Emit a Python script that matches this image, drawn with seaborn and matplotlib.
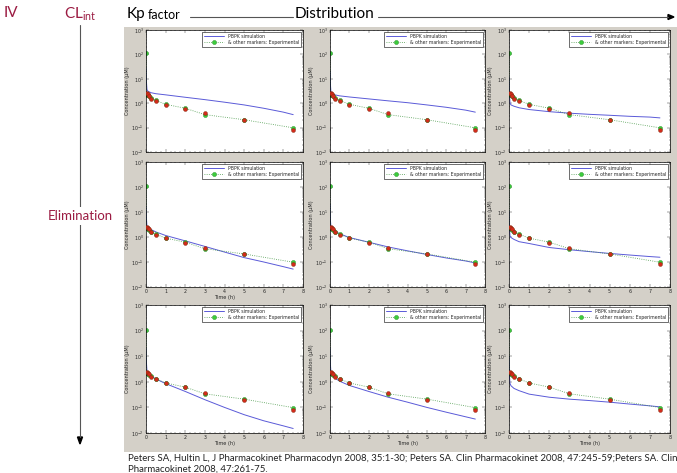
import numpy as np
import pandas as pd
import matplotlib.pyplot as plt
import seaborn as sns
from matplotlib.patches import Rectangle
from matplotlib.ticker import LogLocator, MultipleLocator, NullFormatter

# Experimental data (same in every panel)
exp_green_t = [0, 0.033, 0.083, 0.167, 0.25, 0.5, 1, 2, 3, 5, 7.5]
exp_green_c = [110, 2.2, 2.1, 1.9, 1.65, 1.3, 0.9, 0.62, 0.34, 0.21, 0.098]
exp_red_t = [0.033, 0.083, 0.167, 0.25, 0.5, 1, 2, 3, 5, 7.5]
exp_red_c = [2.5, 2.3, 2.0, 1.55, 1.25, 0.88, 0.6, 0.38, 0.2, 0.082]

# PBPK simulations, one per panel (rows: elimination, cols: Kp factor)
sim_t = [0, 0.02, 0.05, 0.1, 0.25, 0.5, 1, 2, 3, 4, 5, 6, 7, 7.5]
sim_r1c1 = [27, 8, 3.6, 3.1, 2.7, 2.45, 2.2, 1.75, 1.4, 1.1, 0.85, 0.62, 0.43, 0.34]
sim_r1c2 = [20, 6, 2.8, 2.4, 2.2, 2.0, 1.8, 1.5, 1.25, 1.05, 0.85, 0.68, 0.52, 0.43]
sim_r1c3 = [12, 2.5, 1.0, 0.85, 0.75, 0.65, 0.55, 0.45, 0.39, 0.35, 0.32, 0.29, 0.27, 0.25]
sim_r2c1 = [17, 6, 2.6, 2.3, 2.0, 1.6, 1.15, 0.7, 0.42, 0.25, 0.15, 0.1, 0.065, 0.052]
sim_r2c2 = [20, 5, 2.4, 2.1, 1.7, 1.35, 0.95, 0.62, 0.4, 0.28, 0.2, 0.145, 0.11, 0.092]
sim_r2c3 = [11, 2.2, 1.1, 0.95, 0.8, 0.65, 0.55, 0.38, 0.31, 0.26, 0.22, 0.19, 0.165, 0.155]
sim_r3c1 = [20, 6, 2.6, 2.2, 1.7, 1.3, 0.85, 0.42, 0.2, 0.1, 0.052, 0.03, 0.019, 0.015]
sim_r3c2 = [20, 5, 2.2, 1.8, 1.4, 1.05, 0.72, 0.42, 0.25, 0.16, 0.1, 0.065, 0.043, 0.035]
sim_r3c3 = [10, 1.8, 0.85, 0.7, 0.55, 0.45, 0.33, 0.25, 0.21, 0.185, 0.16, 0.135, 0.115, 0.105]

sims = [[sim_r1c1, sim_r1c2, sim_r1c3],
        [sim_r2c1, sim_r2c2, sim_r2c3],
        [sim_r3c1, sim_r3c2, sim_r3c3]]

citation = ("Peters SA, Hultin L, J Pharmacokinet Pharmacodyn 2008, 35:1-30; Peters SA. Clin "
            "Pharmacokinet 2008, 47:245-59;Peters SA. Clin\nPharmacokinet 2008, 47:261-75.")

sns.set_style("ticks")
plt.rcParams['font.family'] = ['DejaVu Sans']

W, H = 677, 473
fig = plt.figure(figsize=(W / 100, H / 100), dpi=100)
fig.patch.set_facecolor('white')

def fx(x):
    return x / W

def fy(y):
    return 1 - y / H

# gray MATLAB figure background
fig.patches.append(Rectangle((fx(124), fy(452)), fx(677 - 124), (452 - 27) / H,
                             transform=fig.transFigure, facecolor='#d4d0c8',
                             edgecolor='none', zorder=-10))

row_px = [(30, 152), (162, 287), (305, 433)]
col_px = [(146, 303), (330, 485), (509, 670)]

blue = '#5a5ad8'
green_line = '#4a9a4a'
green_mk = '#3ccc3c'

for r, (top, bot) in enumerate(row_px):
    for c, (left, right) in enumerate(col_px):
        ax = fig.add_axes([fx(left), fy(bot), fx(right - left), (bot - top) / H])
        ax.set_zorder(1)
        ax.set_facecolor('white')
        sns.lineplot(x=sim_t, y=sims[r][c], ax=ax, color=blue, lw=0.7,
                     label='PBPK simulation')
        sns.lineplot(x=exp_green_t, y=exp_green_c, ax=ax, color=green_line, lw=0.6,
                     linestyle=':', marker='o', markersize=3,
                     markerfacecolor=green_mk, markeredgecolor='#2a8a2a',
                     markeredgewidth=0.3, label='& other markers: Experimental')
        sns.scatterplot(x=exp_red_t, y=exp_red_c, ax=ax, color='#d42a1a', s=8,
                        edgecolor='#7a2a10', linewidth=0.3, legend=False, zorder=4)
        ax.set_yscale('log')
        ax.set_ylim(1e-2, 1e3)
        ax.set_xlim(0, 8)
        ax.yaxis.set_major_locator(LogLocator(base=10, numticks=10))
        ax.yaxis.set_minor_locator(LogLocator(base=10, subs=np.arange(2, 10), numticks=20))
        ax.yaxis.set_minor_formatter(NullFormatter())
        ax.xaxis.set_major_locator(MultipleLocator(1))
        ax.xaxis.set_minor_locator(MultipleLocator(0.25))
        ax.tick_params(which='both', direction='in', top=True, right=True,
                       labelsize=3.4, width=0.3, pad=1.5)
        ax.tick_params(which='major', length=2)
        ax.tick_params(which='minor', length=1)
        for s in ax.spines.values():
            s.set_linewidth(0.5)
            s.set_color('black')
        ax.set_ylabel('Concentration (μM)', fontsize=3.6, labelpad=1)
        if r == 0:
            ax.set_xticklabels([])
            ax.set_xlabel('')
        else:
            if r == 2 or c == 0:
                ax.set_xlabel('Time (h)', fontsize=3.6, labelpad=1)
            else:
                ax.set_xlabel('')
        leg = ax.legend(loc='upper right', fontsize=3.3, frameon=True, fancybox=False,
                        edgecolor='black', framealpha=1, borderpad=0.4,
                        handlelength=4.5, labelspacing=0.25, borderaxespad=0.4)
        leg.get_frame().set_linewidth(0.4)

red_txt = '#9b1b42'
fig.text(fx(4), fy(13), 'IV', color=red_txt, fontsize=11, va='center', ha='left',
         family='Lato')
fig.text(fx(64), fy(14), r'CL$_{\mathregular{int}}$', color=red_txt, fontsize=11,
         va='center', ha='left', family='Lato')
fig.text(fx(127), fy(14), 'Kp', color='black', fontsize=11, va='center', ha='left',
         family='Lato')
fig.text(fx(148), fy(15), 'factor', color='black', fontsize=9, va='center', ha='left',
         family='Lato')
fig.text(fx(334), fy(14), 'Distribution', color='black', fontsize=11, va='center',
         ha='center', family='Lato')

# horizontal distribution arrow
fig.add_artist(plt.Line2D([fx(190), fx(293)], [fy(17), fy(17)], color='#555555', lw=0.8))
fig.add_artist(plt.Line2D([fx(378), fx(668)], [fy(17), fy(17)], color='#555555', lw=0.8))
fig.add_artist(plt.Polygon([[fx(668), fy(14.5)], [fx(674), fy(17)], [fx(668), fy(19.5)]],
                           closed=True, color='black', transform=fig.transFigure))

# vertical elimination arrow
fig.add_artist(plt.Line2D([fx(80), fx(80)], [fy(25), fy(437)], color='#555555', lw=0.8))
fig.add_artist(plt.Polygon([[fx(77.5), fy(437)], [fx(80), fy(444)], [fx(82.5), fy(437)]],
                           closed=True, color='black', transform=fig.transFigure))
fig.text(fx(80), fy(216), 'Elimination', color=red_txt, fontsize=9.5, va='center',
         ha='center', family='Lato',
         bbox=dict(facecolor='white', edgecolor='none', pad=2))

fig.text(fx(128), fy(464), citation, fontsize=6.9, va='center', ha='left',
         family='Lato', linespacing=1.25, color='#222222')

fig.savefig('out.png', dpi=100)
